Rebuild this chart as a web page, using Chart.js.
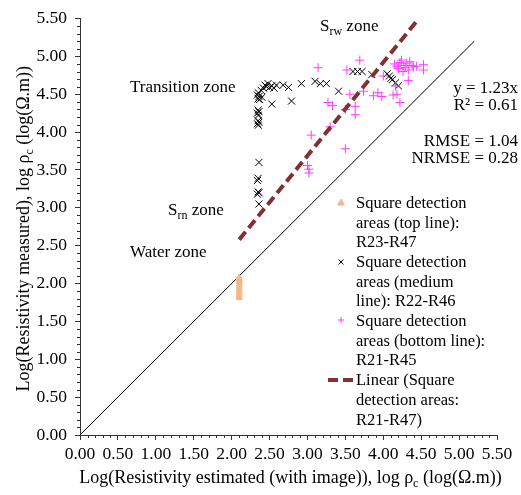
<!DOCTYPE html>
<html>
<head>
<meta charset="utf-8">
<script src="https://cdn.jsdelivr.net/npm/chart.js@4.4.0/dist/chart.umd.min.js"></script>
<style>
  html, body { margin: 0; padding: 0; background: #fff; }
  #wrap { width: 521px; height: 495px; position: relative; }
</style>
</head>
<body>
<div id="wrap"><canvas id="chart"></canvas></div>
<script>
// Data (log10 resistivity)
const topLineX = [2.1, 2.1, 2.1, 2.1, 2.1, 2.1, 2.1, 2.1, 2.1, 2.1, 2.1];
const topLineY = [1.81, 1.84, 1.87, 1.90, 1.93, 1.96, 1.99, 2.02, 2.04, 2.06, 2.08];

const mediumLineX = [2.35, 2.34, 2.36, 2.35, 2.37, 2.35, 2.36, 2.34, 2.35, 2.35, 2.36, 2.34, 2.35, 2.36, 2.35, 2.34, 2.36, 2.34, 2.35, 2.36,
  2.39, 2.42, 2.44, 2.46, 2.48, 2.50, 2.53, 2.56, 2.59, 2.68, 2.75, 2.92, 3.10, 3.17, 3.25, 3.41, 2.53, 2.79, 2.40,
  3.60, 3.66, 3.72, 3.85, 4.05, 4.08, 4.10, 4.12, 4.16, 4.20];
const mediumLineY = [4.52, 4.49, 4.47, 4.44, 4.43, 4.29, 4.27, 4.25, 4.22, 4.15, 4.13, 4.11, 4.09, 3.60, 3.39, 3.36, 3.20, 3.18, 3.21, 3.05,
  4.55, 4.58, 4.62, 4.60, 4.64, 4.59, 4.61, 4.58, 4.62, 4.62, 4.59, 4.64, 4.67, 4.64, 4.64, 4.54, 4.37, 4.41, 4.46,
  4.80, 4.80, 4.80, 4.76, 4.77, 4.74, 4.71, 4.69, 4.65, 4.61];

const bottomLineX = [3.05, 3.00, 3.02, 3.02, 3.30, 3.50, 3.27, 3.33, 3.50, 3.56, 3.63, 3.63, 3.74,
  3.87, 3.93, 3.98, 4.13, 3.14, 3.52, 3.69, 4.00, 4.16, 4.18, 4.22, 4.33,
  4.15, 4.18, 4.22, 4.24, 4.27, 4.29, 4.31, 4.33, 4.35, 4.38, 4.40, 4.44, 4.53, 4.53, 4.20, 4.26];
const bottomLineY = [3.96, 3.56, 3.51, 3.46, 4.07, 3.78, 4.39, 4.35, 4.30, 4.50, 4.34, 4.23, 4.54,
  4.48, 4.52, 4.47, 4.49, 4.85, 4.82, 4.95, 4.74, 4.61, 4.50, 4.39, 4.68,
  4.90, 4.87, 4.92, 4.95, 4.88, 4.85, 4.91, 4.82, 4.93, 4.88, 4.86, 4.87, 4.89, 4.82, 4.84, 4.80];

// Linear trend y = 1.23x and the 1:1 line
const trendX = [2.1, 4.47];
const trendY = [2.58, 5.5];
const oneToOneX = [0, 5.2];
const oneToOneY = [0, 5.2];

const axisMin = 0;
const axisMax = 5.5;
const axisStep = 0.5;

const SERIF = "'Liberation Serif', 'Times New Roman', serif";
const ORANGE = '#f6b889';
const PINK = '#ff3cff';
const MAROON = '#823030';

const zip = (xs, ys) => xs.map((x, i) => ({ x: x, y: ys[i] }));

// draw a string with optional subscript pieces
function richText(ctx, parts, x, y, align, size) {
  size = size || 17;
  const sub = Math.round(size * 0.68);
  let w = 0;
  parts.forEach(p => {
    ctx.font = (p.sub ? sub : size) + 'px ' + SERIF;
    w += ctx.measureText(p.t).width;
  });
  let cx = align === 'center' ? x - w / 2 : (align === 'right' ? x - w : x);
  ctx.textAlign = 'left';
  ctx.textBaseline = 'middle';
  parts.forEach(p => {
    ctx.font = (p.sub ? sub : size) + 'px ' + SERIF;
    ctx.fillText(p.t, cx, p.sub ? y + size * 0.3 : y);
    cx += ctx.measureText(p.t).width;
  });
}

const annotations = {
  id: 'annotations',
  afterDraw(chart) {
    const ctx = chart.ctx;
    const xs = chart.scales.x, ys = chart.scales.y;
    const area = chart.chartArea;
    ctx.save();
    ctx.fillStyle = '#000';

    // minor ticks
    ctx.strokeStyle = '#333';
    ctx.lineWidth = 1;
    ctx.beginPath();
    for (let i = 1; i < 55; i++) {
      if (i % 5 === 0) continue;
      const v = i / 10;
      const px = Math.round(xs.getPixelForValue(v)) + 0.5;
      const py = Math.round(ys.getPixelForValue(v)) + 0.5;
      ctx.moveTo(px, area.bottom); ctx.lineTo(px, area.bottom + 3);
      ctx.moveTo(area.left - 3, py); ctx.lineTo(area.left, py);
    }
    ctx.stroke();

    // axis titles
    richText(ctx, [{ t: 'Log(Resistivity estimated (with image)), log \u03c1' }, { t: 'c', sub: true }, { t: ' (log(\u03a9.m))' }],
      (area.left + area.right) / 2 + 2, 478, 'center', 18);
    ctx.save();
    ctx.translate(24, (area.top + area.bottom) / 2 + 2);
    ctx.rotate(-Math.PI / 2);
    richText(ctx, [{ t: 'Log(Resistivity measured), log \u03c1' }, { t: 'c', sub: true }, { t: ' (log(\u03a9.m))' }], 0, 0, 'center', 18);
    ctx.restore();

    // zone labels
    richText(ctx, [{ t: 'S' }, { t: 'rw', sub: true }, { t: ' zone' }], 320, 27, 'left');
    richText(ctx, [{ t: 'Transition zone' }], 130, 88, 'left');
    richText(ctx, [{ t: 'S' }, { t: 'rn', sub: true }, { t: ' zone' }], 168, 211, 'left');
    richText(ctx, [{ t: 'Water zone' }], 130, 253, 'left');

    // regression stats
    richText(ctx, [{ t: 'y = 1.23x' }], 518, 89, 'right');
    richText(ctx, [{ t: 'R\u00b2 = 0.61' }], 518, 106, 'right');
    richText(ctx, [{ t: 'RMSE = 1.04' }], 518, 142, 'right');
    richText(ctx, [{ t: 'NRMSE = 0.28' }], 518, 159, 'right');

    // legend
    const lines = [
      'Square detection', 'areas (top line):', 'R23-R47',
      'Square detection', 'areas (medium', 'line): R22-R46',
      'Square detection', 'areas (bottom line):', 'R21-R45',
      'Linear (Square', 'detection areas:', 'R21-R47)'
    ];
    lines.forEach((t, i) => richText(ctx, [{ t: t }], 356, 203.5 + 19.7 * i, 'left', 16.5));

    ctx.fillStyle = ORANGE; ctx.strokeStyle = ORANGE;
    Chart.helpers.drawPoint(ctx, { pointStyle: 'triangle', radius: 4, borderWidth: 1 }, 341, 203);
    ctx.strokeStyle = '#000';
    Chart.helpers.drawPoint(ctx, { pointStyle: 'crossRot', radius: 3.5, borderWidth: 1 }, 341, 262);
    ctx.strokeStyle = PINK;
    Chart.helpers.drawPoint(ctx, { pointStyle: 'cross', radius: 3, borderWidth: 1 }, 341, 320);
    ctx.strokeStyle = MAROON;
    ctx.lineWidth = 4;
    ctx.setLineDash([10, 5]);
    ctx.beginPath();
    ctx.moveTo(328, 380); ctx.lineTo(354, 380);
    ctx.stroke();
    ctx.restore();
  }
};

new Chart(document.getElementById('chart'), {
  type: 'scatter',
  data: {
    datasets: [
      {
        label: 'Linear (Square detection areas: R21-R47)',
        data: zip(trendX, trendY),
        showLine: true,
        borderColor: MAROON,
        borderWidth: 4,
        borderDash: [10, 5],
        pointRadius: 0,
        order: 0
      },
      {
        label: 'Square detection areas (bottom line): R21-R45',
        data: zip(bottomLineX, bottomLineY),
        pointStyle: 'cross',
        pointRadius: 4.5,
        borderColor: PINK,
        borderWidth: 1,
        order: 1
      },
      {
        label: 'Square detection areas (medium line): R22-R46',
        data: zip(mediumLineX, mediumLineY),
        pointStyle: 'crossRot',
        pointRadius: 5,
        borderColor: '#000',
        borderWidth: 1,
        order: 2
      },
      {
        label: 'Square detection areas (top line): R23-R47',
        data: zip(topLineX, topLineY),
        pointStyle: 'triangle',
        pointRadius: 3.5,
        backgroundColor: ORANGE,
        borderColor: ORANGE,
        borderWidth: 1,
        order: 3
      },
      {
        label: '1:1',
        data: zip(oneToOneX, oneToOneY),
        showLine: true,
        borderColor: '#000',
        borderWidth: 1,
        pointRadius: 0,
        order: 4
      }
    ]
  },
  options: {
    responsive: true,
    maintainAspectRatio: false,
    animation: false,
    layout: { padding: { top: 15, right: 24, left: 0, bottom: 0 } },
    plugins: {
      legend: { display: false },
      tooltip: { enabled: false }
    },
    scales: {
      x: {
        type: 'linear',
        min: axisMin,
        max: axisMax,
        afterFit: s => { s.height = 60; },
        border: { display: true, color: '#333', width: 1 },
        grid: { drawOnChartArea: false, drawTicks: true, tickLength: 5, tickColor: '#333' },
        ticks: {
          stepSize: axisStep,
          padding: 4,
          color: '#000',
          font: { family: SERIF, size: 17.5 },
          maxRotation: 0,
          callback: v => Number(v).toFixed(2)
        }
      },
      y: {
        type: 'linear',
        min: axisMin,
        max: axisMax,
        afterFit: s => { s.width = 80; },
        border: { display: true, color: '#333', width: 1 },
        grid: { drawOnChartArea: false, drawTicks: true, tickLength: 5, tickColor: '#333' },
        ticks: {
          stepSize: axisStep,
          padding: 8,
          color: '#000',
          font: { family: SERIF, size: 17.5 },
          callback: v => Number(v).toFixed(2)
        }
      }
    }
  },
  plugins: [annotations]
});
</script>
</body>
</html>
